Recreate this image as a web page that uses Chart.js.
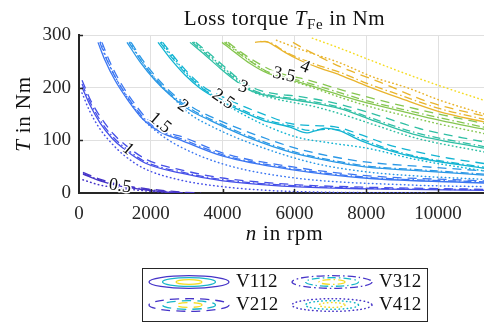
<!DOCTYPE html>
<html lang="en">
<head>
    <meta charset="UTF-8">
    <title>Loss torque</title>
    <script src="https://cdn.jsdelivr.net/npm/chart.js@4.4.0/dist/chart.umd.min.js"></script>
    <style>
        body { margin: 0; background: #fff; }
    </style>
</head>
<body>
    <canvas id="graphique" width="484" height="323"></canvas>

    <script>
        // contour levels and their colours
        const levels = [0.5, 1, 1.5, 2, 2.5, 3, 3.5, 4, 4.5];
        const levelColors = ['#4634c8', '#4650e8', '#3b76f2', '#2a98e6', '#12b4d2', '#2fbfa4', '#86c650', '#e9b42c', '#f5dc22'];

        const xTicks = [0, 2000, 4000, 6000, 8000, 10000];
        const yTicks = [0, 100, 200, 300];

        // V112, solid  -  one line per level, points [n, T]
        const v112 = [
            [[110,36],[590,23],[1140,13],[1840,6],[2670,0]],
            [[84,201],[306,167],[585,133],[919,104],[1281,82],[1839,57],[2814,38],[4012,23],[5962,12],[8024,8],[11281,5]],
            [[529,286],[724,252],[1003,214],[1365,176],[1755,142],[2257,116],[2814,101],[4012,70],[5962,44],[8024,28],[11281,19]],
            [[1337,286],[1699,249],[2117,214],[2535,186],[3092,157],[3649,138],[4763,104],[5962,76],[7270,57],[8024,49],[9500,42],[11281,34]],
            [[2201,286],[2535,256],[2953,224],[3371,199],[3928,176],[4485,157],[5126,138],[5878,125],[6352,114],[6575,118],[6853,123],[7271,118],[7828,100],[8581,82],[9500,66],[11281,47]],
            [[3092,286],[3510,262],[3928,237],[4346,214],[4763,195],[5321,184],[5878,178],[6435,172],[7271,160],[8107,140],[9305,112],[11281,85]],
            [[3984,286],[4346,267],[4763,246],[5237,228],[5739,218],[6156,210],[7271,186],[8024,171],[8942,156],[10056,138],[11281,121]],
            [[4903,286],[5181,288],[5460,279],[5739,267],[6156,252],[6713,237],[7271,224],[8024,203],[8942,180],[10056,154],[11281,135]]
        ];

        // V212, dashed
        const v212 = [
            [[110,39],[600,26],[1200,15],[1900,8],[2800,2],[3400,0]],
            [[84,214],[330,175],[620,142],[960,112],[1330,89],[1900,63],[2900,43],[4050,28],[6000,16],[8000,11],[11281,7]],
            [[640,286],[840,252],[1120,214],[1480,176],[1880,142],[2380,117],[2900,106],[4050,75],[6000,49],[8000,33],[11281,23]],
            [[1450,286],[1810,249],[2230,214],[2650,186],[3200,161],[3800,141],[4900,111],[6100,84],[7300,66],[8100,58],[9600,50],[11281,42]],
            [[2330,286],[2680,256],[3100,224],[3500,200],[4050,181],[4600,164],[5200,148],[5878,132],[6500,128],[7100,126],[7800,112],[8600,92],[9416,78],[10300,66],[11281,56]],
            [[3250,286],[3680,262],[4100,237],[4500,214],[4950,197],[5500,188],[6050,184],[6600,178],[7400,166],[8300,148],[9500,122],[11281,97]],
            [[4150,286],[4500,268],[4950,248],[5400,232],[5900,222],[6300,216],[7400,194],[8150,180],[9050,165],[10150,148],[11281,132]],
            [[5960,286],[6435,268],[7271,240],[8400,210],[9777,172],[11281,146]]
        ];

        // V312, dash-dot
        const v312 = [
            [[110,37],[600,24],[1180,14],[1880,7],[2750,1],[3200,0]],
            [[84,207],[320,171],[600,137],[940,107],[1300,85],[1860,59],[2850,40],[4030,25],[5980,14],[8000,9],[11281,6]],
            [[580,286],[780,252],[1060,214],[1420,176],[1810,142],[2310,117],[2850,103],[4030,72],[5980,46],[8000,30],[11281,21]],
            [[1390,286],[1750,249],[2170,214],[2590,186],[3150,158],[3700,139],[4800,106],[6000,78],[7300,59],[8050,51],[9500,44],[11281,36]],
            [[2260,286],[2600,256],[3020,224],[3430,199],[3980,177],[4540,158],[5180,140],[5930,127],[6400,119],[6900,121],[7300,119],[7850,103],[8600,84],[9500,68],[11281,49]],
            [[3150,286],[3570,262],[3990,237],[4400,214],[4820,196],[5380,185],[5930,180],[6480,174],[7300,162],[8150,142],[9350,115],[11281,88]],
            [[4050,286],[4420,267],[4840,247],[5300,229],[5800,219],[6220,212],[7330,189],[8080,174],[9000,159],[10100,142],[11281,125]],
            [[5050,288],[5350,285],[5650,272],[6000,260],[6600,244],[7271,229],[8024,208],[8942,186],[10056,160],[11281,140]]
        ];

        // V412, dotted (has one more level, 4.5)
        const v412 = [
            [[110,25],[590,15],[1280,8],[2250,2],[3000,0]],
            [[84,190],[280,158],[560,124],[900,95],[1250,72],[1800,47],[2800,25],[4000,12],[5900,3],[9700,0]],
            [[600,286],[790,252],[1060,214],[1400,176],[1760,142],[2250,112],[2814,88],[4012,55],[5962,29],[9300,15],[11281,12]],
            [[1420,286],[1760,249],[2150,214],[2550,186],[3092,150],[3649,128],[4680,97],[6520,57],[8024,40],[9500,32],[11281,26]],
            [[2300,286],[2640,256],[3050,224],[3450,199],[4000,172],[4550,150],[5200,128],[6073,106],[7000,95],[8024,85],[9500,62],[11281,42]],
            [[3200,286],[3620,262],[4040,237],[4450,214],[4850,192],[5400,180],[5950,172],[6500,165],[7300,150],[8200,130],[9400,104],[11281,78]],
            [[4100,286],[4460,267],[4880,246],[5330,226],[5820,215],[6250,206],[7350,180],[8100,164],[9000,148],[10100,130],[11281,113]],
            [[5500,290],[6200,272],[7271,247],[8200,220],[9138,200],[10056,176],[11281,150]],
            [[6500,294],[7300,274],[8200,250],[9200,224],[10200,200],[11281,176]]
        ];

        // contour labels (on the V112 lines)
        const labelText = ['0.5', '1', '1.5', '2', '2.5', '3', '3.5', '4'];
        const labelN = [1142, 1365, 2257, 2897, 4012, 4569, 5711, 6296];
        const labelT = [13, 83, 133, 165, 178, 201, 224, 239];
        const labelAngle = [8, 40, 40, 35, 35, 20, 12, 22];

        const SERIF = '"Liberation Serif", "Times New Roman", serif';
        const INK = '#262626';

        const dashes = {
            V112: [],
            V212: [9, 6],
            V312: [8, 3, 1.5, 3],
            V412: [0.5, 3.5]
        };

        function makeSets(lines, name) {
            return lines.map((pts, i) => ({
                label: name + ' ' + levels[i],
                data: pts.map(p => ({ x: p[0], y: p[1] })),
                showLine: true,
                borderColor: levelColors[i],
                borderWidth: name === 'V412' ? 1.5 : 1.3,
                borderDash: dashes[name],
                borderCapStyle: name === 'V412' ? 'round' : 'butt',
                pointRadius: 0,
                cubicInterpolationMode: 'monotone',
                fill: false
            }));
        }

        const datasets = [].concat(
            makeSets(v412, 'V412'),
            makeSets(v212, 'V212'),
            makeSets(v312, 'V312'),
            makeSets(v112, 'V112')
        );

        function drawParts(ctx, parts, cx, baseline, spacing) {
            ctx.letterSpacing = spacing || '0px';
            let total = 0;
            parts.forEach(p => { ctx.font = p.f; total += ctx.measureText(p.t).width; });
            let x = cx - total / 2;
            ctx.textAlign = 'left';
            ctx.textBaseline = 'alphabetic';
            parts.forEach(p => {
                ctx.font = p.f;
                ctx.fillText(p.t, x, baseline + (p.dy || 0));
                x += ctx.measureText(p.t).width;
            });
            ctx.letterSpacing = '0px';
        }

        const decor = {
            id: 'decor',
            afterDraw(chart) {
                const ctx = chart.ctx;
                const a = chart.chartArea;
                const xs = chart.scales.x, ys = chart.scales.y;
                ctx.save();

                // inward tick marks
                ctx.strokeStyle = INK;
                ctx.lineWidth = 1.5;
                xTicks.slice(1).forEach(v => {
                    const px = Math.round(xs.getPixelForValue(v)) + 0.5;
                    ctx.beginPath(); ctx.moveTo(px, a.bottom); ctx.lineTo(px, a.bottom - 4); ctx.stroke();
                });
                yTicks.slice(1).forEach(v => {
                    const py = Math.round(ys.getPixelForValue(v)) + 0.5;
                    ctx.beginPath(); ctx.moveTo(a.left, py); ctx.lineTo(a.left + 4, py); ctx.stroke();
                });

                // contour labels
                ctx.fillStyle = '#111';
                ctx.font = '18px ' + SERIF;
                ctx.textAlign = 'center';
                ctx.textBaseline = 'middle';
                labelText.forEach((t, i) => {
                    ctx.save();
                    ctx.translate(xs.getPixelForValue(labelN[i]), ys.getPixelForValue(labelT[i]));
                    ctx.rotate(labelAngle[i] * Math.PI / 180);
                    ctx.lineWidth = 3;
                    ctx.strokeStyle = '#fff';
                    ctx.strokeText(t, 0, 0);
                    ctx.fillText(t, 0, 0);
                    ctx.restore();
                });

                // title and axis titles
                ctx.fillStyle = '#111';
                const mid = (a.left + a.right) / 2 + 3;
                drawParts(ctx, [
                    { t: 'Loss torque ', f: '21px ' + SERIF },
                    { t: 'T', f: 'italic 21px ' + SERIF },
                    { t: 'Fe', f: '15px ' + SERIF, dy: 4 },
                    { t: ' in Nm', f: '21px ' + SERIF }
                ], mid, 25, '0.6px');
                drawParts(ctx, [
                    { t: 'n', f: 'italic 21px ' + SERIF },
                    { t: ' in rpm', f: '21px ' + SERIF }
                ], mid, 240, '0.8px');
                ctx.save();
                ctx.translate(30, (a.top + a.bottom) / 2);
                ctx.rotate(-Math.PI / 2);
                drawParts(ctx, [
                    { t: 'T', f: 'italic 21px ' + SERIF },
                    { t: ' in Nm', f: '21px ' + SERIF }
                ], 0, 0, '0.8px');
                ctx.restore();

                // legend box
                const bx = 142, by = 268, bw = 286, bh = 54;
                ctx.fillStyle = '#fff';
                ctx.fillRect(bx, by, bw, bh);
                ctx.strokeStyle = INK;
                ctx.lineWidth = 1;
                ctx.strokeRect(bx + 0.5, by + 0.5, bw - 1, bh - 1);
                const slots = [
                    { name: 'V112', cx: 189, cy: 282 },
                    { name: 'V312', cx: 332, cy: 282 },
                    { name: 'V212', cx: 189, cy: 305 },
                    { name: 'V412', cx: 332, cy: 305 }
                ];
                const rings = [
                    { rx: 40, ry: 6.3, c: levelColors[0] },
                    { rx: 26.5, ry: 4.3, c: '#17b6c8' },
                    { rx: 13, ry: 2.4, c: levelColors[8] }
                ];
                slots.forEach(s => {
                    rings.forEach(r => {
                        ctx.beginPath();
                        ctx.setLineDash(dashes[s.name]);
                        ctx.lineCap = s.name === 'V412' ? 'round' : 'butt';
                        ctx.lineWidth = s.name === 'V412' ? 1.5 : 1.3;
                        ctx.strokeStyle = r.c;
                        ctx.ellipse(s.cx, s.cy, r.rx, r.ry, 0, 0, Math.PI * 2);
                        ctx.stroke();
                    });
                    ctx.setLineDash([]);
                    ctx.fillStyle = '#111';
                    ctx.font = '19px ' + SERIF;
                    ctx.textAlign = 'left';
                    ctx.textBaseline = 'middle';
                    ctx.fillText(s.name, s.cx + 47, s.cy);
                });
                ctx.restore();
            }
        };

        const ctx = document.getElementById('graphique').getContext('2d');
        const chart = new Chart(ctx, {
            type: 'scatter',
            data: { datasets: datasets },
            options: {
                responsive: false,
                animation: false,
                devicePixelRatio: 1,
                layout: { padding: { top: 35, left: 0, right: 0, bottom: 0 } },
                plugins: {
                    legend: { display: false },
                    tooltip: { enabled: false }
                },
                scales: {
                    x: {
                        type: 'linear',
                        min: 0,
                        max: 11281,
                        afterFit: s => { s.height = 130; },
                        afterBuildTicks: s => { s.ticks = xTicks.map(v => ({ value: v })); },
                        ticks: {
                            font: { family: SERIF, size: 19 },
                            color: INK,
                            padding: 10,
                            maxRotation: 0,
                            callback: v => String(v)
                        },
                        grid: { color: '#e0e0e0', lineWidth: 1, drawTicks: false },
                        border: { color: INK, width: 2 }
                    },
                    y: {
                        min: 0,
                        max: 300,
                        afterFit: s => { s.width = 79; },
                        afterBuildTicks: s => { s.ticks = yTicks.map(v => ({ value: v })); },
                        ticks: {
                            font: { family: SERIF, size: 19 },
                            color: INK,
                            padding: 8,
                            callback: v => String(v)
                        },
                        grid: { color: '#e0e0e0', lineWidth: 1, drawTicks: false },
                        border: { color: INK, width: 2 }
                    }
                }
            },
            plugins: [decor]
        });
    </script>
</body>
</html>
